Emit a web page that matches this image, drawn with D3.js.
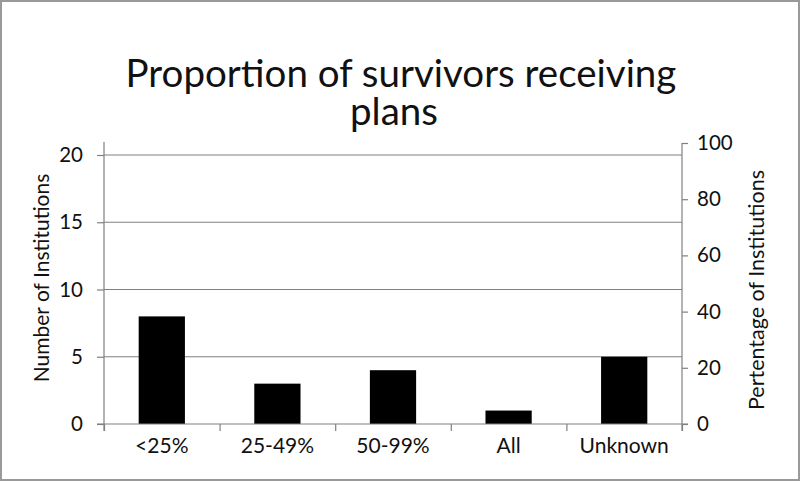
<!DOCTYPE html>
<html><head><meta charset="utf-8">
<script src="https://cdn.jsdelivr.net/npm/d3@7"></script>
<style>body{margin:0;background:#fff}svg{display:block}</style>
</head><body><svg id="c" width="800" height="481"></svg>
<script>
const categories = ["<25%", "25-49%", "50-99%", "All", "Unknown"];
const counts = [8, 3, 4, 1, 5];
const leftTicks = [0, 5, 10, 15, 20];
const rightTicks = [0, 20, 40, 60, 80, 100];
const titleLines = ["Proportion of survivors receiving", "plans"];
const leftLabel = "Number of Institutions";
const rightLabel = "Pertentage of Institutions";

const font = "Lato, 'Open Sans', sans-serif";
const ink = "#111";
const svg = d3.select("#c");
const W = 800, H = 481;
const x0 = 104, x1 = 682, yBase = 424, yTopL = 155, yTopR = 143;

svg.append("rect").attr("x", 1).attr("y", 1).attr("width", W - 2).attr("height", H - 2)
  .attr("fill", "#fff").attr("stroke", "#999").attr("stroke-width", 2);

const x = d3.scaleBand().domain(categories).range([x0, x1]).paddingInner(0.6).paddingOuter(0.3);
const yL = d3.scaleLinear().domain([0, 20]).range([yBase, yTopL]);
const yR = d3.scaleLinear().domain([0, 100]).range([yBase, yTopR]);

// gridlines
svg.append("g").selectAll("line").data(leftTicks.filter(d => d > 0)).join("line")
  .attr("x1", x0).attr("x2", x1).attr("y1", d => yL(d)).attr("y2", d => yL(d))
  .attr("stroke", "#808080").attr("stroke-width", 1.2);

// bars
svg.append("g").selectAll("rect").data(categories).join("rect")
  .attr("x", d => x(d)).attr("width", x.bandwidth())
  .attr("y", (d, i) => yL(counts[i])).attr("height", (d, i) => yBase - yL(counts[i]))
  .attr("fill", "#000");

// left axis
const gl = svg.append("g").attr("transform", `translate(${x0},0)`)
  .call(d3.axisLeft(yL).tickValues(leftTicks).tickSize(7).tickPadding(14));
// right axis
const gr = svg.append("g").attr("transform", `translate(${x1},0)`)
  .call(d3.axisRight(yR).tickValues(rightTicks).tickSize(6).tickPadding(9));
// bottom axis with ticks at band boundaries
const xb = d3.scaleLinear().domain([0, categories.length]).range([x0, x1]);
const gb = svg.append("g").attr("transform", `translate(0,${yBase})`)
  .call(d3.axisBottom(xb).tickValues(d3.range(categories.length + 1)).tickSize(7).tickFormat(""));
gb.select(".domain").attr("d", `M${x0 - 7},0H${x1 + 6}`);
svg.append("g").selectAll("text").data(categories).join("text")
  .attr("x", d => x(d) + x.bandwidth() / 2).attr("y", yBase + 29)
  .attr("text-anchor", "middle").attr("font-family", font).attr("font-size", 21).attr("fill", ink)
  .text(d => d);

gl.select(".domain").attr("d", `M0,${yTopR - 1}V${yBase + 7}`);
gr.select(".domain").attr("d", `M0,${yTopR}V${yBase + 7}`);
[gl, gr, gb].forEach(g => {
  g.selectAll(".domain").attr("stroke", "#808080").attr("stroke-width", 1.2);
  g.selectAll(".tick line").attr("stroke", "#808080").attr("stroke-width", 1.2);
  g.selectAll(".tick text").attr("font-family", font).attr("font-size", 20.5).attr("fill", ink);
});

// title (one text element, two lines)
const title = svg.append("text").attr("text-anchor", "middle")
  .attr("font-family", font).attr("font-size", 38.5).attr("fill", ink);
title.selectAll("tspan").data(titleLines).join("tspan")
  .attr("x", (d, i) => i === 0 ? 401 : 394).attr("y", (d, i) => 87 + i * 38)
  .text(d => d);

// axis labels
svg.append("text").attr("transform", "translate(49,278) rotate(-90)")
  .attr("text-anchor", "middle").attr("font-family", font).attr("font-size", 21).attr("fill", ink)
  .text(leftLabel);
svg.append("text").attr("transform", "translate(764,290) rotate(-90)")
  .attr("text-anchor", "middle").attr("font-family", font).attr("font-size", 21.5).attr("fill", ink)
  .text(rightLabel);
</script></body></html>
